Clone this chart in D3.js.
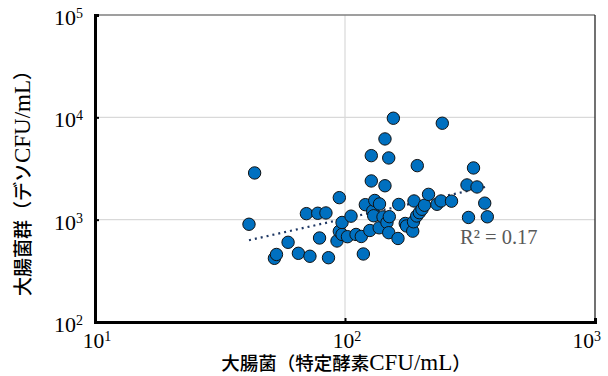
<!DOCTYPE html>
<html><head><meta charset="utf-8">
<script src="https://cdn.jsdelivr.net/npm/d3@7"></script>
<style>body{margin:0;background:#fff}svg{display:block}</style>
</head><body>
<svg id="c" width="608" height="376"></svg>
<script>
const xValues=[41.3,43.5,52.2,53.2,59.2,65.1,70.1,72.4,77.8,79.1,83.9,85.9,92.9,94.9,94.9,97.3,97.3,102.3,105.7,110.7,116.2,118.4,120.6,125.7,127.4,127.4,129.1,130.2,131.5,137.4,137.0,141.9,144.5,144.5,147.2,149.6,150.4,149.6,156.1,162.9,164.0,174.2,176.2,186.6,187.9,188.8,194.6,193.6,198.3,203.2,208.0,215.8,233.3,242.1,245.0,266.7,307.6,311.9,326.6,337.3,362.2,370.9];
const yValues=[902,2861,419,457,601,469,1145,439,1155,662,1163,425,619,1641,770,717,939,682,1082,717,685,462,1401,784,4223,2389,1216,1092,1540,1424,833,1063,6150,2145,939,4010,1070,746,9800,655,1408,918,868,772,954,1523,3373,1087,1171,1264,1383,1767,1414,1523,8756,1516,2184,1051,3202,2087,1450,1067];
const xTicks=[10,100,1000];
const yTicks=[100,1000,10000,100000];
const xTitle=["大腸菌（特定酵素","CFU/mL","）"];
const yTitle=["大腸菌群（デソ","CFU/mL","）"];
const r2Label="R² = 0.17";

const svg=d3.select("#c");
const L=95,R=595,T=15,B=322;
const x=d3.scaleLog().domain([10,1000]).range([L,R]);
const y=d3.scaleLog().domain([100,100000]).range([B,T]);
const serif="'Liberation Serif',serif";
const cjk="'Noto Sans CJK JP',sans-serif";

// gridlines
svg.append("g").selectAll("line").data(yTicks.filter(d=>d>100&&d<100000)).join("line")
 .attr("x1",L).attr("x2",R).attr("y1",d=>y(d)).attr("y2",d=>y(d)).attr("stroke","#d9d9d9").attr("stroke-width",1.2);
svg.append("g").selectAll("line").data(xTicks.filter(d=>d>10&&d<1000)).join("line")
 .attr("y1",T).attr("y2",B).attr("x1",d=>x(d)).attr("x2",d=>x(d)).attr("stroke","#d9d9d9").attr("stroke-width",1.2);
// top & right border
svg.append("line").attr("x1",L).attr("x2",R).attr("y1",y(100000)).attr("y2",y(100000)).attr("stroke","#7f7f7f").attr("stroke-width",1.5);
svg.append("line").attr("x1",x(1000)).attr("x2",x(1000)).attr("y1",T).attr("y2",B).attr("stroke","#262626").attr("stroke-width",1.3);

// trendline (power fit in log-log)
const lx=xValues.map(Math.log10), ly=yValues.map(Math.log10);
const mx=d3.mean(lx), my=d3.mean(ly);
const slope=d3.sum(lx.map((v,i)=>(v-mx)*(ly[i]-my)))/d3.sum(lx.map(v=>(v-mx)**2));
const icpt=my-slope*mx;
const xmin=d3.min(xValues), xmax=d3.max(xValues);
const fit=v=>Math.pow(10,icpt+slope*Math.log10(v));
svg.append("line").attr("x1",x(xmin)).attr("y1",y(fit(xmin))).attr("x2",x(xmax)).attr("y2",y(fit(xmax)))
 .attr("stroke","#1f3864").attr("stroke-width",2.2).attr("stroke-dasharray","2,4");

// points
svg.append("g").selectAll("circle").data(xValues.map((v,i)=>[v,yValues[i]])).join("circle")
 .attr("cx",d=>x(d[0])).attr("cy",d=>y(d[1])).attr("r",6.2)
 .attr("fill","#0070c0").attr("stroke","#111").attr("stroke-width",1);

// axes
const ax=d3.axisBottom(x).tickValues(xTicks).tickSize(-4).tickFormat("");
const ay=d3.axisLeft(y).tickValues(yTicks).tickSize(-4).tickFormat("");
const gx=svg.append("g").attr("transform",`translate(0,${B})`).call(ax);
const gy=svg.append("g").attr("transform",`translate(${L},0)`).call(ay);
[gx,gy].forEach(g=>{g.select(".domain").attr("stroke","#000").attr("stroke-width",3);g.selectAll(".tick line").attr("stroke","#000").attr("stroke-width",2);});

// tick labels
function lbl(sel,d){sel.append("tspan").text("10");sel.append("tspan").attr("dy",-7).attr("font-size",14).text(Math.round(Math.log10(d)));}
svg.append("g").selectAll("text").data(yTicks).join("text")
 .attr("x",83).attr("y",d=>y(d)+10).attr("text-anchor","end").attr("font-family",serif).attr("font-size",22).attr("fill","#000")
 .each(function(d){lbl(d3.select(this),d);});
svg.append("g").selectAll("text").data(xTicks).join("text")
 .attr("x",(d,i)=>i===2?601:x(d)+2).attr("y",348).attr("text-anchor",(d,i)=>i===2?"end":"middle").attr("font-family",serif).attr("font-size",21.5).attr("fill","#000")
 .each(function(d){lbl(d3.select(this),d);});

// R2
svg.append("text").attr("x",460).attr("y",244).attr("font-family",serif).attr("font-size",20.5).attr("fill","#595959").text(r2Label);

// titles
function title(sel,parts){
  parts.forEach((p,i)=>{
    const t=sel.append("tspan").text(p);
    if(i===1) t.attr("font-family",serif).attr("font-size",23).attr("font-weight",400);
  });
}
const xt=svg.append("text").attr("x",346).attr("y",370).attr("text-anchor","middle").attr("font-family",cjk).attr("font-size",18.5).attr("font-weight",500).attr("fill","#000");
title(xt,xTitle);
const yt=svg.append("text").attr("transform","translate(30,178.5) rotate(-90)").attr("text-anchor","middle").attr("font-family",cjk).attr("font-size",19).attr("font-weight",500).attr("fill","#000");
title(yt,yTitle);
</script>
</body></html>
